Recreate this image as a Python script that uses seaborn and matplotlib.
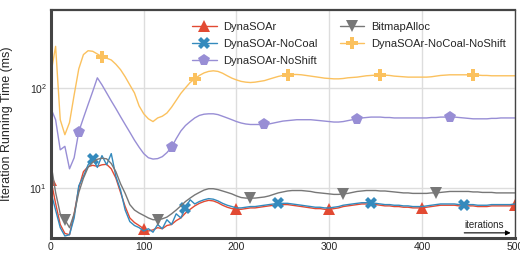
import numpy as np
import pandas as pd
import matplotlib.pyplot as plt
import seaborn as sns

# iteration number (sampled every 5 iterations)
iterations = list(range(0, 501, 5))

dynasoar = [
    12.0, 7.0, 4.3, 3.5, 3.4, 5.5, 10.0, 14.5, 16.3, 16.8,
    16.4, 17.0, 17.2, 15.5, 12.5, 9.0, 6.5, 5.0, 4.5, 4.2,
    3.9, 3.7, 3.8, 4.0, 3.9, 4.2, 4.3, 4.7, 5.0, 5.6,
    6.1, 6.6, 7.0, 7.3, 7.5, 7.4, 7.1, 6.7, 6.4, 6.2,
    6.1, 6.1, 6.2, 6.3, 6.3, 6.4, 6.5, 6.6, 6.7, 6.8,
    6.8, 6.8, 6.7, 6.6, 6.5, 6.4, 6.3, 6.2, 6.2, 6.1,
    6.1, 6.2, 6.3, 6.5, 6.6, 6.7, 6.8, 6.9, 6.9, 6.9,
    6.8, 6.7, 6.6, 6.6, 6.5, 6.5, 6.4, 6.4, 6.3, 6.3,
    6.3, 6.4, 6.5, 6.6, 6.7, 6.7, 6.7, 6.7, 6.6, 6.6,
    6.6, 6.6, 6.5, 6.5, 6.5, 6.6, 6.6, 6.6, 6.6, 6.6,
    6.7,
]
dynasoar_nocoal = [
    9.0, 6.0, 4.0, 3.3, 3.4, 5.0, 10.5, 13.0, 17.0, 19.5,
    16.0, 21.0, 17.0, 22.0, 13.0, 9.5, 6.0, 4.6, 4.2, 4.0,
    3.7, 3.9, 3.6, 4.3, 3.9, 4.8, 4.3, 5.5, 5.0, 6.3,
    7.6, 6.9, 7.3, 7.6, 7.8, 7.7, 7.4, 7.0, 6.7, 6.5,
    6.3, 6.3, 6.4, 6.5, 6.5, 6.6, 6.7, 6.8, 6.9, 7.0,
    7.0, 7.0, 6.9, 6.8, 6.7, 6.6, 6.5, 6.4, 6.4, 6.3,
    6.3, 6.4, 6.5, 6.7, 6.8, 6.9, 7.0, 7.1, 7.1, 7.1,
    7.0, 6.9, 6.8, 6.8, 6.7, 6.7, 6.6, 6.6, 6.5, 6.5,
    6.5, 6.6, 6.7, 6.8, 6.9, 6.9, 6.9, 6.9, 6.8, 6.8,
    6.8, 6.8, 6.7, 6.7, 6.7, 6.8, 6.8, 6.8, 6.8, 6.8,
    6.9,
]
dynasoar_noshift = [
    62, 48, 24, 26, 15.5, 20, 36.5, 50, 68, 92,
    126, 107, 89, 74, 62, 51.5, 43, 36, 30, 25.5,
    22, 20, 19.4, 19.6, 20.5, 22.5, 25.5, 31, 37, 42,
    46, 50, 53, 54.5, 55, 55, 54, 52, 50, 48,
    46, 44.5, 43.5, 43, 43, 43, 43, 43.5, 44.5, 45.5,
    46.5, 47, 47.5, 48, 48, 48, 48, 47.5, 47, 46.5,
    46, 45.5, 45.5, 46, 47, 48, 49, 50, 50.5, 51,
    51, 51, 50.5, 50.5, 50, 50, 50, 50, 50, 50,
    50, 50, 50.5, 50.5, 51, 51, 51, 51, 50.5, 50,
    49.5, 49, 49, 49, 49, 49.5, 49.5, 50, 50, 50,
    50,
]
bitmap_alloc = [
    17.5, 9.0, 5.5, 4.8, 4.0, 5.5, 9.0, 12.5, 16.0, 18.0,
    19.3, 19.8, 19.5, 17.5, 14.5, 11.0, 8.8, 6.8, 6.0, 5.6,
    5.3, 5.0, 4.8, 4.8, 4.9, 5.1, 5.5, 6.0, 6.6, 7.3,
    7.9, 8.5, 9.0, 9.5, 9.8, 9.8, 9.6, 9.3, 9.0, 8.7,
    8.3, 8.0, 7.9, 7.9, 7.9, 8.0, 8.1, 8.3, 8.6, 8.9,
    9.1, 9.3, 9.4, 9.4, 9.4, 9.3, 9.2, 9.0, 8.9, 8.8,
    8.7, 8.6, 8.6, 8.7, 8.8, 9.0, 9.2, 9.3, 9.4, 9.4,
    9.4, 9.3, 9.3, 9.2, 9.1, 9.0, 8.9, 8.9, 8.8, 8.8,
    8.8, 8.8, 8.9, 8.9, 9.0, 9.1, 9.2, 9.2, 9.2, 9.2,
    9.2, 9.1, 9.1, 9.0, 9.0, 9.0, 8.9, 8.9, 8.9, 8.9,
    8.9,
]
dynasoar_nocoal_noshift = [
    140, 260, 48, 34, 45, 85, 155, 215, 235, 232,
    218, 205, 198, 190, 172, 152, 129, 107, 89, 66,
    55, 49, 46, 50, 52, 56, 64, 75, 88, 100,
    113, 123, 133, 141, 146, 148, 146, 140, 132, 125,
    120, 116, 114, 113, 114, 116, 118, 122, 126, 130,
    133, 135, 136, 136, 135, 133, 131, 129, 127, 125,
    124, 123, 123, 124, 126, 127, 128, 130, 132, 133,
    134, 135, 134, 133, 131, 130, 129, 128, 128, 128,
    128, 128, 129, 131, 133, 134, 135, 135, 135, 135,
    135, 135, 134, 133, 133, 132, 132, 132, 132, 132,
    132,
]

# (label, values, colour, marker, first marker index)
series = [
    ("DynaSOAr", dynasoar, "#E24A33", "^", 0),
    ("DynaSOAr-NoCoal", dynasoar_nocoal, "#348ABD", "X", 9),
    ("DynaSOAr-NoShift", dynasoar_noshift, "#988ED5", "p", 6),
    ("BitmapAlloc", bitmap_alloc, "#777777", "v", 3),
    ("DynaSOAr-NoCoal-NoShift", dynasoar_nocoal_noshift, "#FBC15E", "P", 11),
]

sns.set_theme(style="whitegrid")
plt.rcParams["font.family"] = ["Liberation Sans", "DejaVu Sans"]

fig = plt.figure(figsize=(5.2, 2.58), dpi=100)
ax = fig.add_axes([0.098, 0.078, 0.892, 0.884])

for name, vals, col, mk, start in series:
    df = pd.DataFrame({"iteration": iterations, "time": vals})
    sns.lineplot(data=df, x="iteration", y="time", ax=ax, label=name, color=col,
                 marker=mk, markevery=(start, 20), markersize=8.5, linewidth=1,
                 markeredgewidth=0)

ax.set_yscale("log")
ax.set_xlim(0, 500)
ax.set_ylim(3.16, 603)
ax.set_xticks([0, 100, 200, 300, 400, 500])
ax.set_yticks([10, 100])
ax.yaxis.set_minor_locator(plt.NullLocator())
ax.tick_params(axis="both", labelsize=7.5, length=0, pad=3)
ax.set_xlabel("")
ax.set_ylabel("Iteration Running Time (ms)", fontsize=9, labelpad=12)
ax.grid(True, color="#dddddd", linewidth=1)

for side, lw in [("left", 2.2), ("bottom", 2.2), ("top", 1.6), ("right", 1.0)]:
    ax.spines[side].set_color("#444444")
    ax.spines[side].set_linewidth(lw)

ax.legend(loc="upper left", bbox_to_anchor=(0.29, 0.975), ncol=2, frameon=False,
          fontsize=8, handlelength=2.2, labelspacing=0.6, columnspacing=2.0,
          handletextpad=0.6, borderaxespad=0.2)

ax.text(0.977, 0.035, "iterations", transform=ax.transAxes, ha="right", va="bottom",
        fontsize=7)
ax.annotate("", xy=(0.997, 0.022), xytext=(0.885, 0.022), xycoords="axes fraction",
            arrowprops=dict(arrowstyle="-|>", color="black", lw=0.8, mutation_scale=7))

fig.savefig("out.png", dpi=100)
